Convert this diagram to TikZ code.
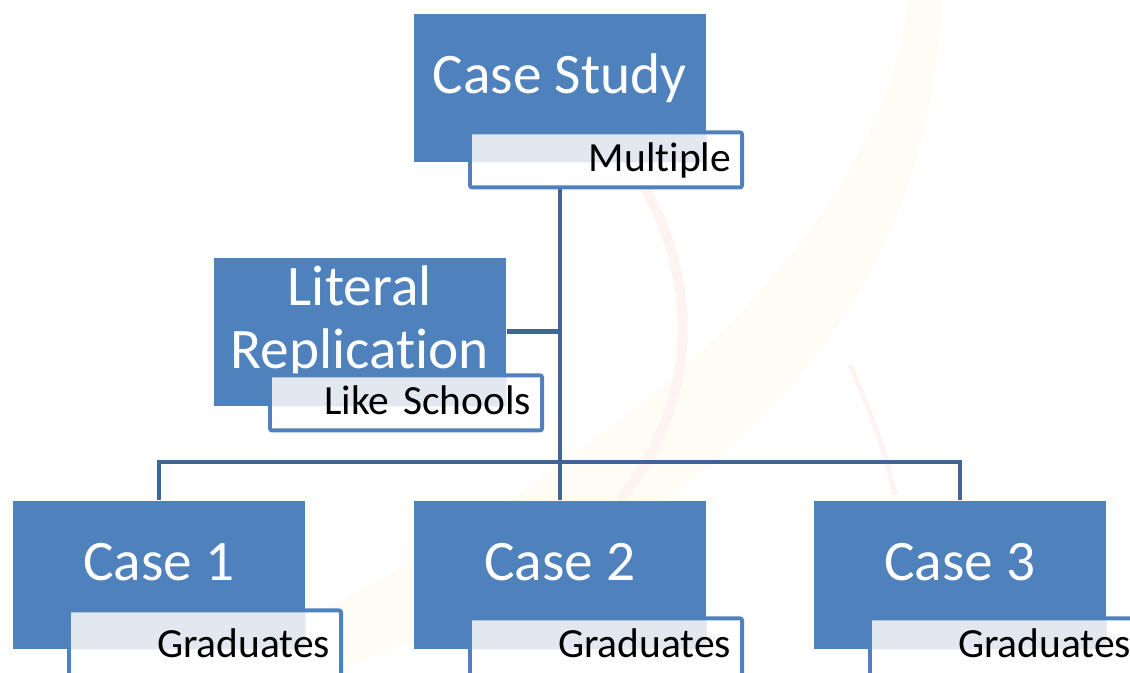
\documentclass[tikz,border=0pt]{standalone}
\usepackage{fontspec}
\setmainfont{Carlito}[Ligatures=NoCommon]
\usepackage{xcolor}
\usepackage{tikz}
\pgfdeclarelayer{background}
\pgfsetlayers{background,main}
\definecolor{boxblue}{HTML}{4F81BD}
\definecolor{linkblue}{HTML}{3F6496}
\definecolor{tagshade}{HTML}{E3E8F0}
\definecolor{arcyellow}{HTML}{FFFCF5}
\definecolor{arcpink}{HTML}{FDF4F2}

\begin{document}
\begin{tikzpicture}[x=0.01cm, y=0.01cm,
    casebox/.style={anchor=north west, fill=boxblue, text=white, inner sep=0pt,
      minimum width=2.92cm, minimum height=1.48cm, text height=0.80cm, text depth=0.68cm,
      font=\fontsize{16.3}{17.9}\selectfont},
    tagbox/.style={anchor=north west, draw=boxblue, line width=1.1pt, rounded corners=0.6pt,
      fill=white, inner ysep=0pt, inner xsep=0.11cm, text width=2.50cm, align=right,
      text height=0.39cm, text depth=0.16cm, font=\fontsize{11.8}{13}\selectfont,
      path picture={\fill[tagshade] (path picture bounding box.north west) rectangle (#1.south east);}},
    link/.style={draw=linkblue, line width=1.3pt}]
  \useasboundingbox (0,0) rectangle (1130,673);
  \node[casebox] (study) at (413,660) {Case Study};
  \node[casebox, align=center, text height=1.11cm, text depth=0.37cm] (literal) at (213,416) {Literal\\Replication};
  \node[casebox] (case1) at (12,173) {Case 1};
  \node[casebox] (case2) at (413,173) {Case 2};
  \node[casebox] (case3) at (813,173) {Case 3};
  \coordinate (fork) at (559,211);
  \node[tagbox=study] (studytag) at ([xshift=0.55cm, yshift=0.32cm]study.south west) {Multiple};
  \node[tagbox=literal] (literaltag) at ([xshift=0.55cm, yshift=0.33cm]literal.south west) {Like Schools};
  \foreach \c/\h in {case1/0.47, case2/0.39, case3/0.39}
    \node[tagbox=\c, text height=\h cm, text depth=0.30cm] (\c tag) at ([xshift=0.55cm, yshift=\h cm - 0.06cm]\c.south west) {Graduates};
  \begin{pgfonlayer}{background}
    \fill[arcyellow] (942,673) .. controls (930,423) and (800,173) .. (330,0)
      -- (200,0) .. controls (600,193) and (880,423) .. (908,673) -- cycle;
    \draw[arcpink, line width=0.1cm] (640,493) .. controls (700,393) and (700,273) .. (620,173);
    \draw[arcpink, line width=0.05cm] (850,308) .. controls (870,263) and (885,223) .. (895,178);
    \draw[link] (study.south) -- (case2.north);
    \draw[link] (literal.east) -- (literal.east -| study.south);
    \draw[link] (case1.north) |- (fork) -| (case3.north);
  \end{pgfonlayer}
\end{tikzpicture}
\end{document}
